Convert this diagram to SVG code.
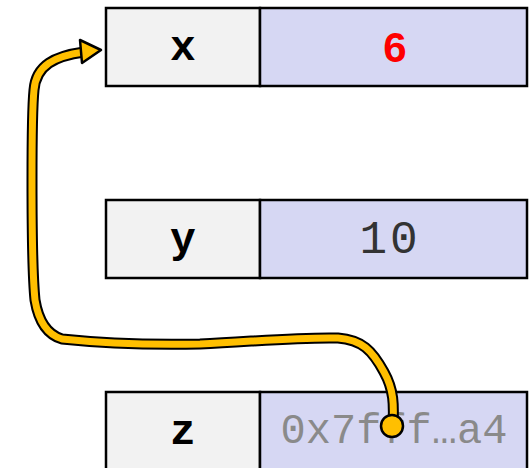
<svg xmlns="http://www.w3.org/2000/svg" width="529" height="468" viewBox="0 0 529 468">
<style>
.lab{fill:#f2f2f2;stroke:#000;stroke-width:2.5}
.val{fill:#d6d7f3;stroke:#000;stroke-width:2.5}
.name{font-family:"Courier New","Liberation Mono","DejaVu Sans Mono",monospace;font-weight:bold;font-size:43px;fill:#000;text-anchor:middle}
.mono{font-family:"Courier New","Liberation Mono","DejaVu Sans Mono",monospace;text-anchor:middle}
.outline{fill:none;stroke:#000;stroke-width:11;stroke-linecap:round;stroke-linejoin:round}
.core{fill:none;stroke:#FFBF00;stroke-width:7;stroke-linecap:round;stroke-linejoin:round}
</style>
<rect width="529" height="468" fill="#fff"/>
<g id="node-x">
<rect class="lab" x="106" y="8" width="154" height="78"/>
<rect class="val" x="260" y="8" width="267" height="78"/>
<text class="name" x="183" y="60">x</text>
<text x="395" y="62" font-family="'Liberation Sans',Arial,sans-serif" font-weight="bold" font-size="42" fill="#ff0000" text-anchor="middle">6</text>
</g>
<g id="node-y">
<rect class="lab" x="106" y="200" width="154" height="78"/>
<rect class="val" x="260" y="200" width="267" height="78"/>
<text class="name" x="183" y="252">y</text>
<text class="mono" x="390" y="253" font-size="46" letter-spacing="3" fill="#333">10</text>
</g>
<g id="node-z">
<rect class="lab" x="106" y="392" width="154" height="78"/>
<rect class="val" x="260" y="392" width="267" height="78"/>
<text class="name" x="183" y="444">z</text>
<text class="mono" x="394" y="443" font-size="42" fill="#8a8a8a">0x7fff…a4</text>
</g>
<g id="connectors">
<path class="outline" d="M393 425 C394 405 394 390 384 372 C372 350 362 340 338 338 C300 337 260 341 200 344 C150 345 100 343 62 339 C45 334 38 318 35 300 C32 270 32 230 32 180 C32 140 32 110 34 90 C36 65 55 56 84 52"/>
<path class="core" d="M393 425 C394 405 394 390 384 372 C372 350 362 340 338 338 C300 337 260 341 200 344 C150 345 100 343 62 339 C45 334 38 318 35 300 C32 270 32 230 32 180 C32 140 32 110 34 90 C36 65 55 56 84 52"/>
<polygon points="101,50 80,40 82,63" fill="#FFBF00" stroke="#000" stroke-width="2.5" stroke-linejoin="round"/>
<circle cx="392" cy="426" r="11" fill="#FFBF00" stroke="#000" stroke-width="2.5"/>
</g>
</svg>
